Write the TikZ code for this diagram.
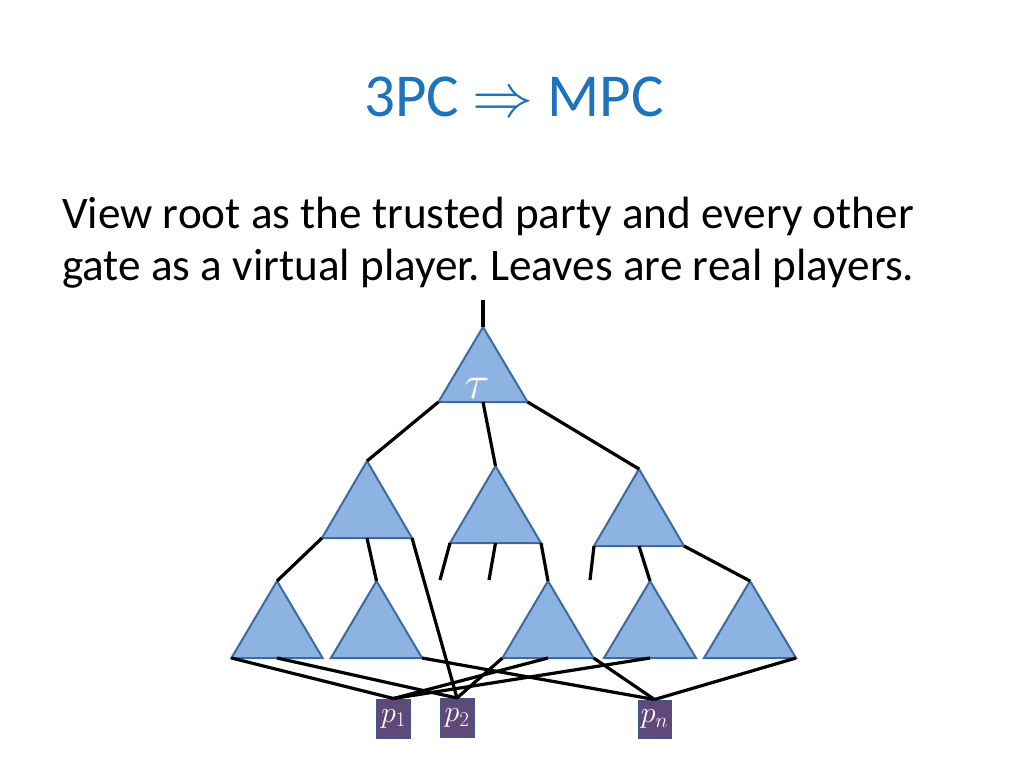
\RequirePackage{fix-cm}
\documentclass[tikz,border=0pt]{standalone}
\usepackage{fontspec}
\setmainfont{Carlito}
\frenchspacing
\begin{document}
\begin{tikzpicture}[x=1pt,y=-1pt,
  tri/.style={fill=triFill,draw=triLine,line width=2pt,line join=miter},
  edge/.style={draw=black,line width=3.2pt},
  player/.style={fill=plFill,draw=plLine,line width=1pt,minimum width=34pt,minimum height=39pt,inner sep=0pt,text=white,font=\fontsize{30}{32}\selectfont},
  title/.style={text=titleBlue,font=\fontsize{61}{70}\selectfont,inner sep=0pt},
  body/.style={text=black,font=\fontsize{45.2}{52}\selectfont,inner sep=0pt}
]
\definecolor{triFill}{HTML}{8DB3E2}
\definecolor{triLine}{HTML}{3E6A9C}
\definecolor{plFill}{HTML}{5F497A}
\definecolor{plLine}{HTML}{3F5A8A}
\definecolor{titleBlue}{HTML}{1F72BC}
\newcommand{\mktri}[5]{%
  \coordinate (#1-t) at (#2,#3);
  \coordinate (#1-l) at (#2-#5,#4);
  \coordinate (#1-r) at (#2+#5,#4);
  \coordinate (#1-b) at (#2,#4);
  \filldraw[tri] (#1-t) -- (#1-l) -- (#1-r) -- cycle;}
\useasboundingbox (0,0) rectangle (1024,768);
\fill[white] (0,0) rectangle (1024,768);

\node[title,anchor=base] (ttl) at (514,116) {3PC $\Rightarrow$ MPC};
\node[body,anchor=base west] (l1) at (62,228) {View root as the trusted party and every other};
\node[body,anchor=base west] (l2) at (62,280) {gate as a virtual player. Leaves are real players.};

\coordinate (top) at (483,300);
\coordinate (f1) at (440,580);
\coordinate (f2) at (489,580);
\coordinate (f3) at (590,580);

\node[player] (p1) at (393.5,718.5) {$p_1$};
\node[player] (p2) at (457,718) {$p_2$};
\node[player,minimum width=33pt,minimum height=38pt] (pn) at (654.5,719) {$p_n$};

\mktri{R}{483}{327}{402}{44.6}
\mktri{MA}{367}{461}{538}{45}
\mktri{MB}{495.5}{466}{543}{45.5}
\mktri{MC}{639}{469}{546}{45}
\mktri{BA}{277}{581}{658}{45.6}
\mktri{BB}{376.5}{581}{658}{45.6}
\mktri{BC}{548}{581}{658}{45.6}
\mktri{BD}{650}{581}{658}{46}
\mktri{BE}{750}{581}{658}{46}

\node[text=white,font=\fontsize{47}{52}\selectfont,inner sep=0pt] (tau) at (477,388) {$\tau$};

\draw[edge] (top) -- (R-t);
\draw[edge] (R-l) -- (MA-t);
\draw[edge] (R-b) -- (MB-t);
\draw[edge] (R-r) -- (MC-t);
\draw[edge] (MA-l) -- (BA-t);
\draw[edge] (MA-b) -- (BB-t);
\draw[edge] (MA-r) -- (p2.north);
\draw[edge] (MB-l) -- (f1);
\draw[edge] (MB-b) -- (f2);
\draw[edge] (MB-r) -- (BC-t);
\draw[edge] (MC-l) -- (f3);
\draw[edge] (MC-b) -- (BD-t);
\draw[edge] (MC-r) -- (BE-t);

\draw[edge] (BA-l) -- (p1.north);
\draw[edge] (BC-b) -- (p1.north);
\draw[edge] (BD-b) -- (p1.north);
\draw[edge] (BA-b) -- (p2.north);
\draw[edge] (BC-l) -- (p2.north);
\draw[edge] (BB-r) -- (pn.north);
\draw[edge] (BC-r) -- (pn.north);
\draw[edge] (BE-r) -- (pn.north);
\end{tikzpicture}
\end{document}
